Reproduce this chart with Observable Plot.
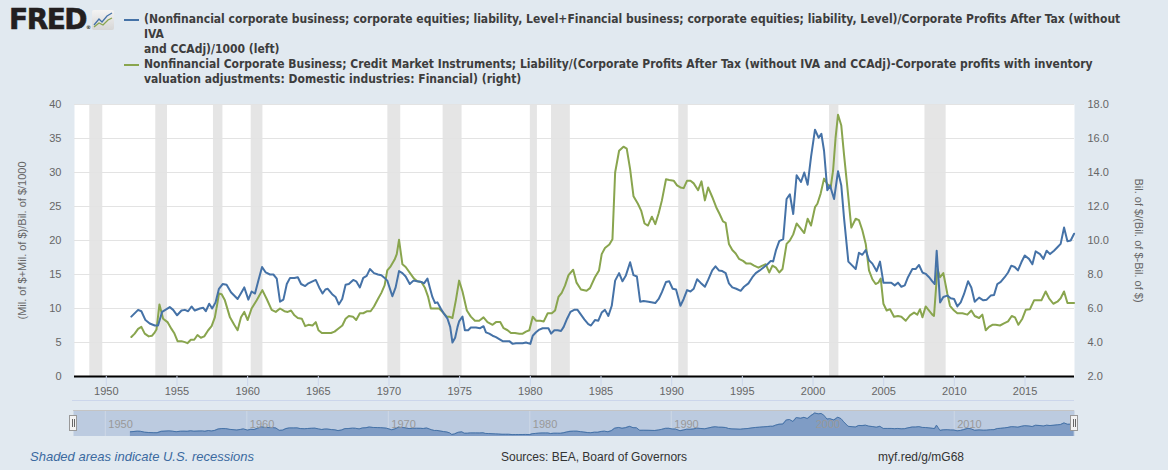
<!DOCTYPE html>
<html><head><meta charset="utf-8">
<script src="https://cdn.jsdelivr.net/npm/d3@7"></script>
<script src="https://cdn.jsdelivr.net/npm/@observablehq/plot@0.6"></script>
<style>
body{margin:0;background:#e1e9f0;}
#wrap{position:relative;width:1168px;height:470px;background:#e1e9f0;overflow:hidden;font-family:"Liberation Sans",Arial,sans-serif;}
#logo{position:absolute;left:9px;top:6px;font:900 28px "DejaVu Sans",sans-serif;letter-spacing:-1.5px;color:#231f20;line-height:28px;-webkit-text-stroke:0.6px #231f20;}
#logo sup{font-size:5px;letter-spacing:0;vertical-align:0;-webkit-text-stroke:0;}
#icon{position:absolute;left:92px;top:10px;}
.leg{position:absolute;left:124px;font-family:"DejaVu Sans Condensed","DejaVu Sans",sans-serif;font-stretch:condensed;font-weight:bold;font-size:12px;line-height:15px;color:#3d3d3d;white-space:nowrap;}
.leg .dash{position:absolute;left:0;top:7px;width:15px;height:2px;}
.leg .txt{position:absolute;left:20px;top:0;}
#chart{position:absolute;left:0;top:94px;}
#nav{position:absolute;left:0;top:410px;}
#navline{position:absolute;left:72px;top:400px;width:1002px;height:1px;background:#ccd6eb;}
.handle{position:absolute;top:415px;width:6px;height:14px;background:#f2f2f2;border:1px solid #999;}
.handle i{position:absolute;top:3px;width:1px;height:8px;background:#666;}
.foot{position:absolute;top:450px;font-size:12px;color:#333;white-space:nowrap;}
</style>
</head><body>
<div id="wrap">
  <div id="logo">FRED<sup>®</sup></div>
  <svg id="icon" width="22" height="20" viewBox="0 0 22 20">
    <defs><linearGradient id="g" x1="0" y1="0" x2="0" y2="1"><stop offset="0" stop-color="#f3f3f3"/><stop offset="1" stop-color="#d6d6d6"/></linearGradient></defs>
    <rect x="0" y="0" width="22" height="20" rx="2" fill="url(#g)"/>
    <polyline points="2,15 7,9 10,12 15,6 20,3" fill="none" stroke="#4572a7" stroke-width="1.3"/>
    <polyline points="2,17 7,13 11,15 16,10 20,8" fill="none" stroke="#89a54e" stroke-width="1.3"/>
  </svg>
  <div class="leg" style="top:12px"><span class="dash" style="background:#4572a7"></span><div class="txt">(Nonfinancial corporate business; corporate equities; liability, Level+Financial business; corporate equities; liability, Level)/Corporate Profits After Tax (without<br>IVA<br>and CCAdj)/1000 (left)</div></div>
  <div class="leg" style="top:57px"><span class="dash" style="background:#89a54e"></span><div class="txt">Nonfinancial Corporate Business; Credit Market Instruments; Liability/(Corporate Profits After Tax (without IVA and CCAdj)-Corporate profits with inventory<br>valuation adjustments: Domestic industries: Financial) (right)</div></div>
  <div id="chart"></div>
  <div id="navline"></div>
  <div id="nav"></div>
  <div class="handle" style="left:69px"><i style="left:2px"></i><i style="left:4px"></i></div>
  <div class="handle" style="left:1070px"><i style="left:2px"></i><i style="left:4px"></i></div>
  <div class="foot" style="left:30px;font-size:13px;font-style:italic;color:#3b6aa0;top:449px">Shaded areas indicate U.S. recessions</div>
  <div class="foot" style="left:501px">Sources: BEA, Board of Governors</div>
  <div class="foot" style="left:878px">myf.red/g/mG68</div>
</div>
<script>
// ---- Data (decimal years) ----
const blueYears = [1951.77,1952.25,1952.48,1952.77,1953.07,1953.43,1953.66,1953.95,1954.49,1954.73,1955.01,1955.32,1955.56,1955.79,1956.03,1956.26,1956.62,1956.86,1957.04,1957.28,1957.49,1957.73,1957.97,1958.23,1958.51,1958.82,1959.29,1959.57,1959.76,1960.05,1960.28,1960.52,1960.76,1961.02,1961.28,1961.58,1961.82,1962.06,1962.29,1962.53,1962.77,1963.0,1963.31,1963.55,1963.78,1964.07,1964.3,1964.59,1964.82,1965.06,1965.3,1965.5,1965.67,1965.98,1966.22,1966.45,1966.69,1966.93,1967.16,1967.47,1967.68,1967.94,1968.18,1968.42,1968.65,1968.94,1969.22,1969.46,1969.69,1969.88,1970.24,1970.47,1970.71,1970.95,1971.18,1971.47,1971.73,1972.0,1972.29,1972.48,1972.72,1972.91,1973.07,1973.26,1973.43,1973.66,1973.9,1974.14,1974.33,1974.49,1974.68,1974.85,1974.96,1975.2,1975.37,1975.6,1975.79,1976.15,1976.45,1976.69,1976.86,1977.09,1977.33,1977.57,1977.8,1978.04,1978.27,1978.51,1978.75,1978.98,1979.22,1979.46,1979.69,1980.0,1980.17,1980.4,1980.64,1980.87,1981.11,1981.28,1981.47,1981.7,1981.94,1982.17,1982.36,1982.6,1982.84,1983.1,1983.34,1983.58,1983.82,1984.1,1984.29,1984.57,1984.81,1985.05,1985.28,1985.52,1985.76,1986.0,1986.28,1986.52,1986.75,1987.06,1987.3,1987.54,1987.77,1988.01,1988.36,1988.84,1989.08,1989.31,1989.6,1989.83,1990.07,1990.31,1990.62,1990.85,1991.09,1991.33,1991.56,1991.8,1992.04,1992.35,1992.58,1992.87,1993.1,1993.34,1993.58,1993.82,1994.05,1994.29,1994.57,1994.88,1995.12,1995.43,1995.71,1995.95,1996.23,1996.54,1996.78,1997.01,1997.18,1997.37,1997.61,1997.89,1998.13,1998.36,1998.6,1998.84,1999.15,1999.38,1999.62,1999.86,2000.14,2000.4,2000.59,2000.78,2001.01,2001.2,2001.49,2001.77,2002.0,2002.19,2002.5,2002.78,2003.02,2003.25,2003.49,2003.73,2003.96,2004.2,2004.5,2004.74,2004.98,2005.26,2005.54,2005.78,2006.01,2006.25,2006.49,2006.72,2007.03,2007.26,2007.5,2007.74,2007.97,2008.21,2008.44,2008.61,2008.75,2008.99,2009.22,2009.5,2009.74,2009.98,2010.21,2010.45,2010.68,2010.97,2011.2,2011.44,2011.75,2012.05,2012.29,2012.57,2012.81,2013.04,2013.28,2013.56,2013.8,2014.03,2014.27,2014.5,2014.74,2014.98,2015.28,2015.52,2015.75,2016.06,2016.3,2016.53,2016.77,2017.05,2017.29,2017.52,2017.76,2018.0,2018.23,2018.47];
const blueValues = [8.8,9.8,9.6,8.3,7.8,7.5,7.5,9.5,10.2,9.8,9.0,9.7,9.8,9.6,10.3,9.7,10.0,10.1,9.6,10.7,10.0,10.9,12.9,13.6,13.5,12.4,11.4,12.4,13.1,11.3,12.5,12.2,14.1,16.1,15.3,15.0,15.0,14.4,11.0,11.3,13.6,14.5,14.5,14.6,13.6,13.3,13.7,14.0,14.2,13.1,12.2,12.8,12.9,12.1,11.7,10.6,11.4,13.5,13.6,14.2,14.0,13.1,14.5,14.8,15.8,15.2,15.0,14.9,14.5,14.1,11.8,13.1,15.5,15.2,14.7,13.6,14.1,14.0,13.9,13.7,14.4,12.9,11.7,10.8,10.9,10.0,9.2,8.5,7.3,5.0,5.7,7.3,8.1,8.8,6.8,6.8,7.2,7.2,7.1,7.4,6.5,6.3,6.0,5.8,5.5,5.2,5.2,5.2,4.8,4.9,4.9,4.9,5.0,4.8,6.0,6.5,6.9,7.1,7.1,7.1,6.3,6.8,6.8,6.7,7.3,8.5,9.5,9.8,9.8,9.1,8.4,7.7,7.5,8.3,8.2,9.4,9.8,8.9,10.4,14.1,15.2,14.0,14.8,16.8,14.9,14.7,11.0,11.1,11.0,10.8,11.4,12.4,13.9,14.0,12.9,12.8,10.4,11.4,12.7,12.5,12.9,14.3,13.8,13.2,14.2,15.6,16.2,15.6,15.5,15.2,13.7,13.1,12.9,12.6,13.2,13.7,14.6,15.2,15.6,16.1,16.5,17.0,16.9,18.5,19.9,20.2,26.1,26.8,23.9,29.6,28.6,30.0,28.2,32.3,36.3,35.1,35.7,33.2,27.4,28.1,26.1,30.2,28.1,23.4,16.9,16.3,15.8,18.2,17.9,18.6,17.1,16.6,15.5,16.9,13.8,13.8,13.8,13.4,13.8,13.2,13.4,14.6,15.8,15.8,16.4,15.3,15.1,14.6,14.0,13.6,18.5,10.9,11.7,11.9,11.5,11.4,10.3,10.9,12.1,14.0,13.1,11.0,11.6,11.2,11.3,11.9,12.0,13.6,13.9,14.6,15.3,16.3,16.1,15.6,16.8,17.8,17.3,16.5,18.4,18.0,17.3,18.5,18.0,18.5,19.0,19.5,21.9,19.9,20.0,21.0];

const greenYears = [1951.77,1952.01,1952.25,1952.48,1952.72,1953.0,1953.24,1953.43,1953.55,1953.76,1954.02,1954.33,1954.61,1954.8,1955.04,1955.32,1955.56,1955.74,1955.98,1956.22,1956.45,1956.69,1956.93,1957.21,1957.45,1957.68,1957.87,1957.97,1958.16,1958.39,1958.75,1959.05,1959.29,1959.53,1959.76,1960.0,1960.28,1960.64,1961.04,1961.35,1961.7,1961.99,1962.29,1962.6,1962.84,1963.07,1963.31,1963.55,1963.83,1964.07,1964.3,1964.59,1964.82,1965.01,1965.25,1965.6,1965.9,1966.15,1966.45,1966.7,1966.93,1967.16,1967.45,1967.68,1967.94,1968.18,1968.46,1968.7,1968.94,1969.22,1969.46,1969.69,1969.88,1970.12,1970.4,1970.55,1970.71,1970.95,1971.18,1971.49,1971.77,1972.0,1972.29,1972.53,1972.77,1972.96,1973.26,1973.55,1973.78,1974.09,1974.26,1974.49,1974.73,1974.96,1975.2,1975.51,1975.79,1976.08,1976.38,1976.69,1976.97,1977.33,1977.57,1977.87,1978.11,1978.39,1978.63,1978.91,1979.22,1979.46,1979.69,1979.93,1980.17,1980.4,1980.71,1980.95,1981.23,1981.52,1981.75,1981.99,1982.22,1982.46,1982.7,1983.03,1983.27,1983.58,1983.98,1984.22,1984.57,1984.86,1985.05,1985.28,1985.59,1985.81,1986.0,1986.28,1986.59,1986.82,1987.06,1987.3,1987.61,1987.84,1988.08,1988.32,1988.6,1988.84,1989.08,1989.31,1989.6,1989.83,1990.14,1990.38,1990.62,1990.85,1991.09,1991.33,1991.56,1991.87,1992.11,1992.35,1992.58,1992.87,1993.15,1993.39,1993.63,1993.82,1994.05,1994.29,1994.53,1994.76,1995.05,1995.29,1995.59,1995.83,1996.14,1996.42,1996.66,1996.9,1997.13,1997.37,1997.61,1997.84,1998.13,1998.36,1998.6,1998.84,1999.08,1999.38,1999.62,1999.86,2000.14,2000.31,2000.54,2000.78,2001.01,2001.25,2001.42,2001.6,2001.77,2002.0,2002.19,2002.43,2002.71,2003.02,2003.25,2003.49,2003.73,2003.96,2004.2,2004.43,2004.62,2004.79,2004.98,2005.21,2005.45,2005.73,2006.01,2006.25,2006.56,2006.86,2007.15,2007.38,2007.57,2007.74,2007.97,2008.21,2008.44,2008.56,2008.8,2008.99,2009.22,2009.5,2009.69,2009.98,2010.21,2010.57,2010.92,2011.2,2011.44,2011.75,2011.98,2012.22,2012.45,2012.69,2012.92,2013.23,2013.51,2013.8,2014.06,2014.29,2014.53,2014.81,2015.05,2015.35,2015.64,2015.92,2016.16,2016.46,2016.7,2017.0,2017.29,2017.52,2017.76,2018.0,2018.23,2018.47];
const greenValues = [4.32,4.52,4.80,4.92,4.52,4.36,4.40,4.60,4.76,6.24,5.40,5.20,4.80,4.56,4.08,4.08,4.02,3.96,4.16,4.16,4.44,4.28,4.36,4.72,4.96,5.48,6.36,6.88,6.84,6.48,5.48,5.04,4.72,5.48,5.80,5.32,6.00,6.48,7.08,6.56,5.92,5.80,6.00,5.84,5.80,5.88,5.60,5.44,5.40,4.96,5.04,5.00,5.20,4.72,4.56,4.56,4.56,4.64,4.84,5.00,5.40,5.56,5.52,5.32,5.72,5.72,5.84,5.84,6.12,6.56,6.92,7.36,8.24,8.48,8.88,9.20,10.04,8.60,8.44,8.08,7.76,7.60,7.56,7.24,6.68,6.00,6.00,6.00,5.80,5.52,5.52,5.44,6.48,7.64,7.00,5.88,5.52,5.28,5.28,5.48,5.20,5.04,5.20,5.20,4.84,4.72,4.56,4.56,4.52,4.52,4.64,4.72,5.52,5.28,5.28,5.24,5.72,5.72,5.88,6.68,6.92,7.36,7.96,8.28,7.52,7.12,7.04,7.20,7.84,8.24,9.20,9.56,9.76,10.08,14.00,15.28,15.52,15.40,14.20,12.60,12.16,11.76,11.00,10.88,11.40,10.96,11.60,12.36,13.60,13.56,13.52,13.24,13.12,13.08,13.52,13.52,13.36,12.96,13.48,12.36,13.12,12.56,11.96,11.56,11.12,11.04,9.80,9.44,9.24,8.92,8.80,8.64,8.64,8.52,8.40,8.52,8.60,8.12,8.52,8.40,8.12,8.32,9.80,10.00,10.36,11.00,10.76,10.44,11.28,10.88,11.96,12.16,12.76,13.64,13.32,13.12,14.12,16.08,17.40,16.76,15.08,13.12,10.76,11.28,11.20,10.60,9.80,8.24,7.72,7.44,7.52,7.76,6.28,5.88,5.96,5.52,5.56,5.52,5.28,5.60,5.76,5.64,5.96,5.48,6.12,5.88,5.64,5.56,8.32,7.84,8.08,6.88,6.16,5.88,5.72,5.72,5.64,5.88,5.56,5.44,5.64,4.72,4.92,5.04,5.04,5.00,5.12,5.24,5.56,5.48,5.04,5.40,5.92,5.96,6.48,6.48,6.48,7.00,6.60,6.28,6.40,6.60,7.00,6.32,6.32,6.32];

const recessionStarts = [1948.83,1953.5,1957.58,1960.25,1969.92,1973.83,1980.0,1981.5,1990.5,2001.17,2007.92];
const recessionEnds   = [1949.75,1954.33,1958.25,1961.08,1970.83,1975.17,1980.5,1982.83,1991.17,2001.83,2009.42];

const xTicks = [1950,1955,1960,1965,1970,1975,1980,1985,1990,1995,2000,2005,2010,2015];
const navTicks = [1950,1960,1970,1980,1990,2000,2010];
const leftTicks = [0,5,10,15,20,25,30,35,40];
const rightTickLabels = ["2.0","4.0","6.0","8.0","10.0","12.0","14.0","16.0","18.0"];
const leftLabel = "(Mil. of $+Mil. of $)/Bil. of $/1000";
const rightLabel = "Bil. of $/(Bil. of $-Bil. of $)";
const xDomain = [1947.75, 2018.5];

// right axis: 2..18 mapped onto left 0..40
const rightToLeft = v => (v - 2) * 2.5;

const blue = blueYears.map((x, i) => ({x, y: blueValues[i]}));
const green = greenYears.map((x, i) => ({x, y: greenValues[i]}));
const recessions = recessionStarts.map((s, i) => ({start: s, end: recessionEnds[i]}));

const BLUE = "#4572a7", GREEN = "#89a54e";

const chart = Plot.plot({
  width: 1168, height: 312,
  marginTop: 10, marginBottom: 30, marginLeft: 74, marginRight: 94,
  style: {background: "transparent", fontFamily: "'Liberation Sans', Arial, sans-serif", fontSize: "11px", overflow: "visible"},
  x: {domain: xDomain},
  y: {domain: [0, 40]},
  marks: [
    Plot.frame({fill: "white", stroke: "none"}),
    Plot.rect(recessions, {x1: "start", x2: "end", y1: 0, y2: 40, fill: "#e5e5e5"}),
    Plot.ruleY(leftTicks.slice(1), {stroke: "#e3e3e3", strokeWidth: 1}),
    Plot.line(green, {x: "x", y: d => rightToLeft(d.y), stroke: GREEN, strokeWidth: 2}),
    Plot.line(blue, {x: "x", y: "y", stroke: BLUE, strokeWidth: 2}),
    Plot.ruleY([0], {stroke: "#000", strokeWidth: 2}),
    Plot.axisX({ticks: xTicks, tickFormat: d => String(d), tickSize: 10, tickPadding: 1, stroke: "#ccd6eb", fill: "#666", label: null, fontSize: 11}),
    Plot.axisY({ticks: leftTicks, tickSize: 0, tickPadding: 13, fill: "#666", label: null, fontSize: 11}),
    Plot.axisY({anchor: "right", ticks: leftTicks, tickFormat: d => rightTickLabels[leftTicks.indexOf(d)], tickSize: 0, tickPadding: 13, fill: "#666", label: null, fontSize: 11}),
    Plot.text([leftLabel], {frameAnchor: "left", textAnchor: "middle", lineAnchor: "middle", dx: -52, rotate: -90, fill: "#666", fontSize: 11}),
    Plot.text([rightLabel], {frameAnchor: "right", textAnchor: "middle", lineAnchor: "middle", dx: 64, rotate: 90, fill: "#666", fontSize: 11})
  ]
});
document.getElementById("chart").appendChild(chart);

const nav = Plot.plot({
  width: 1168, height: 26,
  marginTop: 0, marginBottom: 0, marginLeft: 73, marginRight: 94,
  style: {background: "transparent", fontFamily: "'Liberation Sans', Arial, sans-serif", fontSize: "11px"},
  x: {domain: xDomain, axis: null},
  y: {domain: [2, 40], axis: null},
  marks: [
    Plot.frame({fill: "#bccbe0", stroke: "none"}),
    Plot.ruleX(navTicks, {stroke: "#cdd8e6", strokeWidth: 1}),
    Plot.areaY(blue, {x: "x", y1: 2, y2: "y", fill: "#7f9cc5"}),
    Plot.line(blue, {x: "x", y: "y", stroke: BLUE, strokeWidth: 1}),
    Plot.text(navTicks, {x: d => d, text: d => String(d), frameAnchor: "bottom", dy: -9, dx: 3, textAnchor: "start", fill: "#999", fontSize: 11}),
    Plot.ruleY([40], {stroke: "#c4c4c4", strokeWidth: 1})
  ]
});
document.getElementById("nav").appendChild(nav);
</script>
</body></html>
